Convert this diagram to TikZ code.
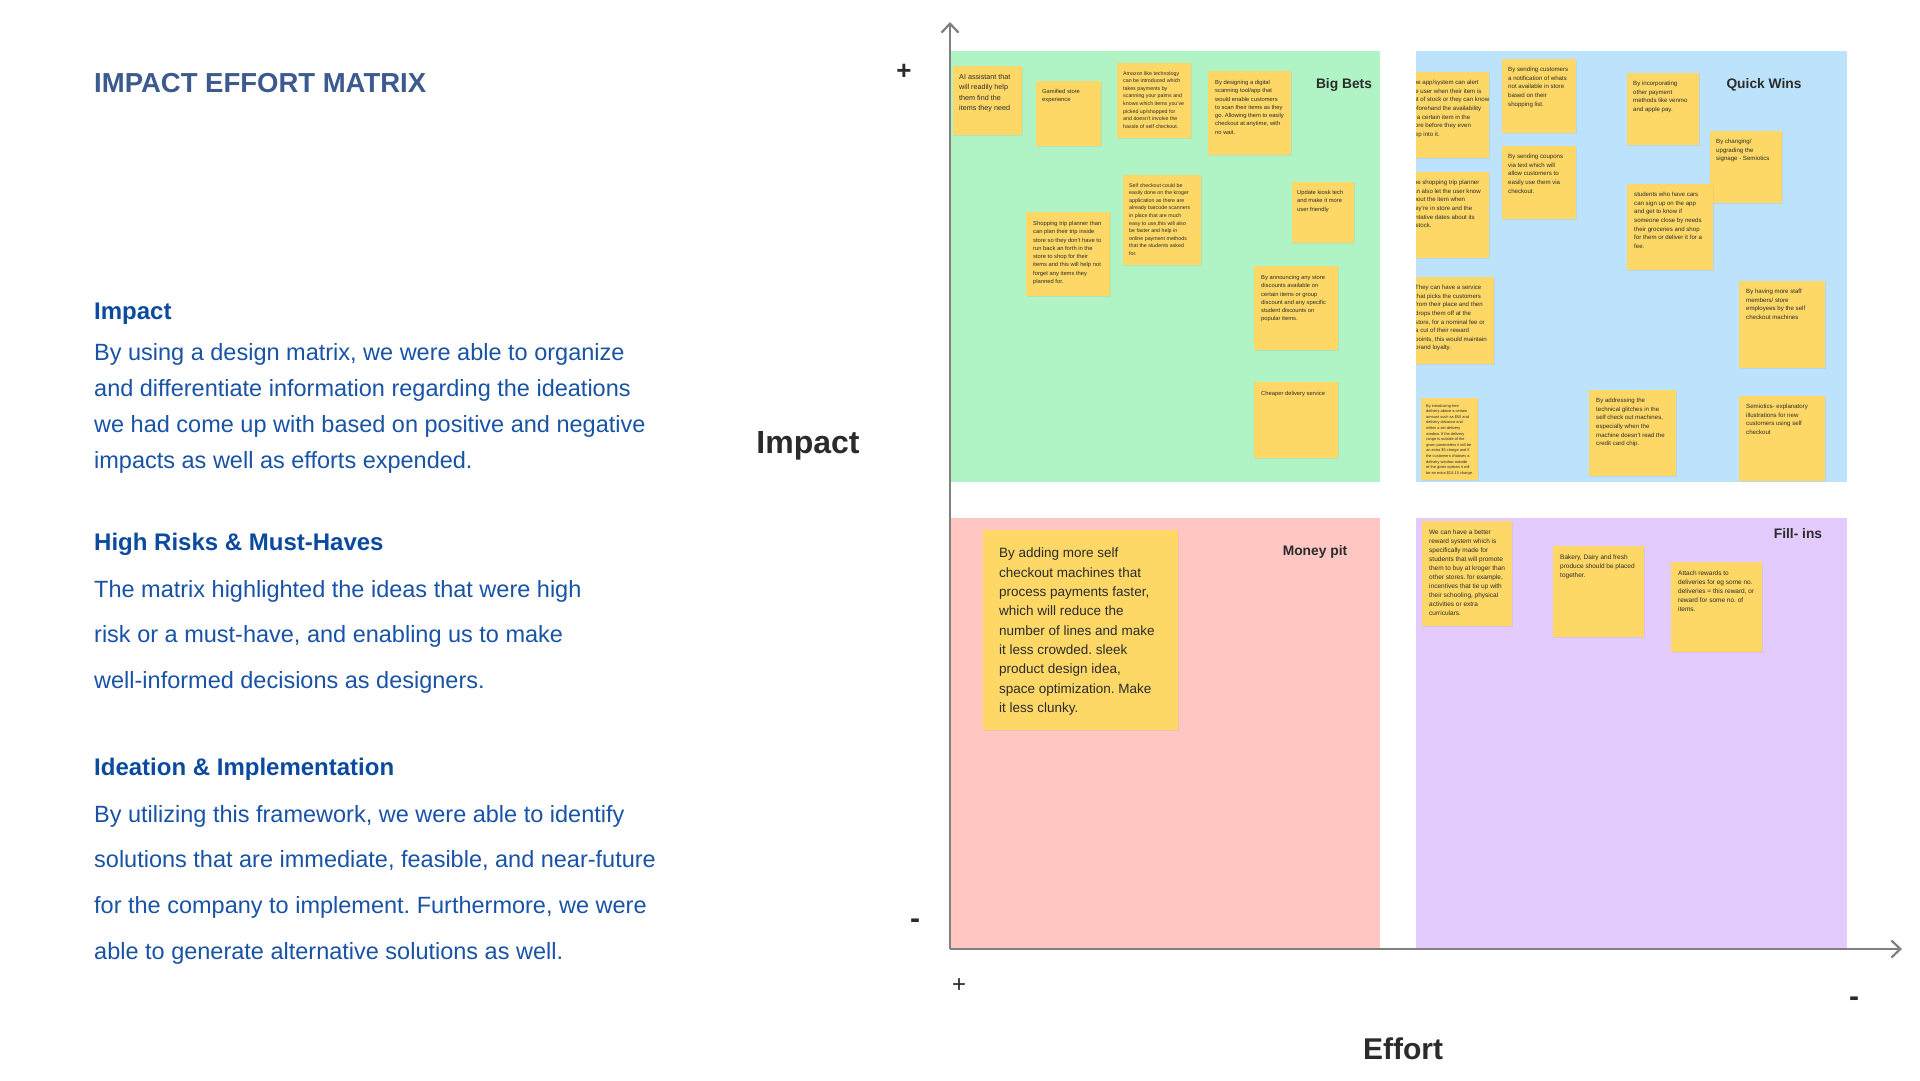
\documentclass[tikz,border=0pt]{standalone}
\usepackage{fontspec}
\setmainfont{Liberation Sans}
\usetikzlibrary{calc,positioning,arrows.meta,shadows}
\frenchspacing

\definecolor{titleblue}{HTML}{3D5A8F}
\definecolor{headblue}{HTML}{0C4A9E}
\definecolor{bodyblue}{HTML}{1853A6}
\definecolor{bbgreen}{HTML}{B0F4C6}
\definecolor{qwblue}{HTML}{BDE3FC}
\definecolor{mpred}{HTML}{FFC6C2}
\definecolor{fipurple}{HTML}{E3CCFD}
\definecolor{notey}{HTML}{FDD866}
\definecolor{axisgray}{HTML}{808080}
\definecolor{inkgray}{HTML}{2B2B2B}

\begin{document}
\begin{tikzpicture}[x=1pt, y=-1pt, >={Straight Barb[length=9pt, width=17pt]}]

\tikzstyle{quad}=[inner sep=0, anchor=north west, minimum width=430pt, minimum height=431pt]
\tikzstyle{qlabel}=[inner sep=0, text=inkgray, font=\bfseries\fontsize{13.8}{16}\selectfont]
\tikzstyle{axis}=[line width=2.2pt, draw=axisgray]
\tikzstyle{sign}=[inner sep=0, text=inkgray]
\tikzstyle{heading}=[inner sep=0, anchor=base west, text=headblue, font=\bfseries\fontsize{24}{28}\selectfont]
\tikzstyle{body}=[inner sep=0, anchor=north west, align=left, text=bodyblue]
\tikzstyle{sticky}=[fill=notey, inner sep=0, anchor=north west, drop shadow={shadow xshift=0.5pt, shadow yshift=-1pt, opacity=0.12}]
\tikzstyle{notetext}=[inner sep=0, anchor=north west, align=left, text=inkgray]
\tikzstyle{txtL}=[font=\fontsize{13.5}{19.3}\selectfont]
\tikzstyle{txtM}=[font=\fontsize{7.2}{10.3}\selectfont]
\tikzstyle{txtF}=[font=\fontsize{6.5}{9}\selectfont]
\tikzstyle{txtQ}=[font=\fontsize{6.1}{8.6}\selectfont]
\tikzstyle{txtS}=[font=\fontsize{5.8}{8.3}\selectfont]
\tikzstyle{txtXS}=[font=\fontsize{5.3}{7.6}\selectfont]
\tikzstyle{txtT}=[font=\fontsize{3.9}{5.6}\selectfont]

\useasboundingbox[fill=white] (0,0) rectangle (1920,1080);

% left column
\node(title)[inner sep=0, anchor=base west, text=titleblue, font=\bfseries\fontsize{27.5}{32}\selectfont] at (94,92.3) {IMPACT EFFORT MATRIX};

\node(H1)[heading] at (94,319) {Impact};
\node(P1)[body, font=\fontsize{23.5}{36}\selectfont] at (94,342.8) {By using a design matrix, we were able to organize\\and differentiate information regarding the ideations\\we had come up with based on positive and negative\\impacts as well as efforts expended.};

\node(H2)[heading] at (94,550) {High Risks \& Must-Haves};
\node(P2)[body, font=\fontsize{23.5}{45.8}\selectfont] at (94,579.8) {The matrix highlighted the ideas that were high\\risk or a must-have, and enabling us to make\\well-informed decisions as designers.};

\node(H3)[heading] at (94,775) {Ideation \& Implementation};
\node(P3)[body, font=\fontsize{23.5}{45.8}\selectfont] at (94,804.8) {By utilizing this framework, we were able to identify\\solutions that are immediate, feasible, and near-future\\for the company to implement. Furthermore, we were\\able to generate alternative solutions as well.};

% quadrants
\node(BB)[quad, fill=bbgreen, minimum width=429pt] at (951,51) {};
\node(QW)[quad, fill=qwblue, minimum width=431pt] at (1416,51) {};
\node(MP)[quad, fill=mpred, minimum width=429pt] at (951,518) {};
\node(FI)[quad, fill=fipurple, minimum width=431pt] at (1416,518) {};

\node(BBt)[qlabel] at (1344,85) {Big Bets};
\node(QWt)[qlabel] at (1764,85) {Quick Wins};
\node(MPt)[qlabel] at (1315,552) {Money pit};
\node(FIt)[qlabel] at (1798,534) {Fill- ins};

% axes
\coordinate(O) at (950,949);
\coordinate(Ytop) at (950,22);
\coordinate(Xend) at (1902,949);
\draw[->, style = axis] (O) -- (Ytop);
\draw[->, style = axis] (O) -- (Xend);

\node(Yplus)[sign, font=\bfseries\fontsize{26}{30}\selectfont] at (904,72) {+};
\node(Yminus)[sign, font=\bfseries\fontsize{30}{34}\selectfont] at (915,924) {-};
\node(Xplus)[sign, font=\fontsize{24}{28}\selectfont] at (959,986) {+};
\node(Xminus)[sign, font=\bfseries\fontsize{30}{34}\selectfont] at (1854,1002) {-};

\node(Ylab)[inner sep=0, text=inkgray, font=\bfseries\fontsize{32}{36}\selectfont] at (808,446) {Impact};
\node(Xlab)[inner sep=0, text=inkgray, font=\bfseries\fontsize{30}{34}\selectfont] at (1403,1049) {Effort};

% big bets notes
\node(bb1)[sticky, minimum width=69pt, minimum height=69pt] at (953,66) {};
\node(bb1t)[notetext, txtM] at ($(bb1.north west)+(6,8)$) {AI assistant that\\will readily help\\them find the\\items they need};

\node(bb2)[sticky, minimum width=65pt, minimum height=65pt] at (1036,81) {};
\node(bb2t)[notetext, txtS] at ($(bb2.north west)+(6,8)$) {Gamified store\\experience};

\node(bb3)[sticky, minimum width=74pt, minimum height=75pt] at (1117,63) {};
\node(bb3t)[notetext, txtXS] at ($(bb3.north west)+(6,8)$) {Amazon like technology\\can be introduced which\\takes payments by\\scanning your palms and\\knows which items you've\\picked up/shopped for\\and doesn't involve the\\hassle of self checkout.};

\node(bb4)[sticky, minimum width=83pt, minimum height=84pt] at (1208,71) {};
\node(bb4t)[notetext, txtS] at ($(bb4.north west)+(7,9)$) {By designing a digital\\scanning tool/app that\\would enable customers\\to scan their items as they\\go. Allowing them to easily\\checkout at anytime, with\\no wait.};

\node(bb5)[sticky, minimum width=78pt, minimum height=90pt] at (1123,175) {};
\node(bb5t)[notetext, txtXS] at ($(bb5.north west)+(6,8)$) {Self checkout could be\\easily done on the kroger\\application as there are\\already barcode scanners\\in place that are much\\easy to use,this will also\\be faster and help in\\online payment methods\\that the students asked\\for.};

\node(bb6)[sticky, minimum width=62pt, minimum height=61pt] at (1292,182) {};
\node(bb6t)[notetext, txtS] at ($(bb6.north west)+(5,8)$) {Update kiosk tech\\and make it more\\user friendly};

\node(bb7)[sticky, minimum width=84pt, minimum height=84pt] at (1026,212) {};
\node(bb7t)[notetext, txtS] at ($(bb7.north west)+(7,9)$) {Shopping trip planner than\\can plan their trip inside\\store so they don't have to\\run back an forth in the\\store to shop for their\\items and this will help not\\forget any items they\\planned for.};

\node(bb8)[sticky, minimum width=84pt, minimum height=84pt] at (1254,266) {};
\node(bb8t)[notetext, txtS] at ($(bb8.north west)+(7,9)$) {By announcing any store\\discounts available on\\certain items or group\\discount and any specific\\student discounts on\\popular items.};

\node(bb9)[sticky, minimum width=84pt, minimum height=76pt] at (1254,382) {};
\node(bb9t)[notetext, txtS] at ($(bb9.north west)+(7,9)$) {Cheaper delivery service};

% quick wins notes (cut at the quadrant edge)
\begin{scope}
\clip (QW.north west) rectangle (QW.south east);

\node(qw1)[sticky, minimum width=86pt, minimum height=86pt] at (1403,72) {};
\node(qw1t)[notetext, txtQ] at ($(qw1.north west)+(7,8)$) {The app/system can alert\\the user when their item is\\out of stock or they can know\\beforehand the availability\\of a certain item in the\\store before they even\\step into it.};

\node(qw2)[sticky, minimum width=74pt, minimum height=74pt] at (1502,59) {};
\node(qw2t)[notetext, txtQ] at ($(qw2.north west)+(6,8)$) {By sending customers\\a notification of whats\\not available in store\\based on their\\shopping list.};

\node(qw3)[sticky, minimum width=74pt, minimum height=73pt] at (1502,146) {};
\node(qw3t)[notetext, txtQ] at ($(qw3.north west)+(6,8)$) {By sending coupons\\via text which will\\allow customers to\\easily use them via\\checkout.};

\node(qw4)[sticky, minimum width=86pt, minimum height=86pt] at (1403,172) {};
\node(qw4t)[notetext, txtQ] at ($(qw4.north west)+(7,8)$) {The shopping trip planner\\can also let the user know\\about the item when\\they're in store and the\\tentative dates about its\\restock.};

\node(qw5)[sticky, minimum width=72pt, minimum height=72pt] at (1627,73) {};
\node(qw5t)[notetext, txtQ] at ($(qw5.north west)+(6,8)$) {By incorporating\\other payment\\methods like venmo\\and apple pay.};

\node(qw6)[sticky, minimum width=72pt, minimum height=72pt] at (1710,131) {};
\node(qw6t)[notetext, txtQ] at ($(qw6.north west)+(6,8)$) {By changing/\\upgrading the\\signage - Semiotics};

\node(qw7)[sticky, minimum width=86pt, minimum height=86pt] at (1627,184) {};
\node(qw7t)[notetext, txtQ] at ($(qw7.north west)+(7,8)$) {students who have cars\\can sign up on the app\\and get to know if\\someone close by needs\\their groceries and shop\\for them or deliver it for a\\fee.};

\node(qw8)[sticky, minimum width=86pt, minimum height=87pt] at (1408,277) {};
\node(qw8t)[notetext, txtQ] at ($(qw8.north west)+(7,8)$) {They can have a service\\that picks the customers\\from their place and then\\drops them off at the\\store, for a nominal fee or\\a cut of their reward\\points, this would maintain\\brand loyalty.};

\node(qw9)[sticky, minimum width=86pt, minimum height=87pt] at (1739,281) {};
\node(qw9t)[notetext, txtQ] at ($(qw9.north west)+(7,8)$) {By having more staff\\members/ store\\employees by the self\\checkout machines};

\node(qw10)[sticky, minimum width=57pt, minimum height=82pt] at (1421,398) {};
\node(qw10t)[notetext, txtT] at ($(qw10.north west)+(5,6)$) {By introducing free\\delivery above a certain\\amount such as \$50 and\\delivery distance and\\within a set delivery\\window. If the delivery\\range is outside of the\\given parameters it will be\\an extra \$5 charge and if\\the customers chooses a\\delivery window outside\\of the given options it will\\be an extra \$10-15 charge.};

\node(qw11)[sticky, minimum width=87pt, minimum height=86pt] at (1589,390) {};
\node(qw11t)[notetext, txtQ] at ($(qw11.north west)+(7,8)$) {By addressing the\\technical glitches in the\\self check out machines,\\especially when the\\machine doesn't read the\\credit card chip.};

\node(qw12)[sticky, minimum width=86pt, minimum height=85pt] at (1739,396) {};
\node(qw12t)[notetext, txtQ] at ($(qw12.north west)+(7,8)$) {Semiotics- explanatory\\illustrations for new\\customers using self\\checkout};
\end{scope}

% money pit note
\node(mp1)[sticky, minimum width=195pt, minimum height=200pt] at (983,530) {};
\node(mp1t)[notetext, txtL] at ($(mp1.north west)+(16,18)$) {By adding more self\\checkout machines that\\process payments faster,\\which will reduce the\\number of lines and make\\it less crowded. sleek\\product design idea,\\space optimization. Make\\it less clunky.};

% fill-ins notes
\node(fi1)[sticky, minimum width=90pt, minimum height=105pt] at (1422,521) {};
\node(fi1t)[notetext, txtF] at ($(fi1.north west)+(7,9)$) {We can have a better\\reward system which is\\specifically made for\\students that will promote\\them to buy at kroger than\\other stores. for example,\\incentives that tie up with\\their schooling, physical\\activities or extra\\curriculars.};

\node(fi2)[sticky, minimum width=91pt, minimum height=91pt] at (1553,546) {};
\node(fi2t)[notetext, txtF] at ($(fi2.north west)+(7,9)$) {Bakery, Dairy and fresh\\produce should be placed\\together.};

\node(fi3)[sticky, minimum width=91pt, minimum height=90pt] at (1671,562) {};
\node(fi3t)[notetext, txtF] at ($(fi3.north west)+(7,9)$) {Attach rewards to\\deliveries for eg some no.\\deliveries = this reward, or\\reward for some no. of\\items.};

\end{tikzpicture}
\end{document}
